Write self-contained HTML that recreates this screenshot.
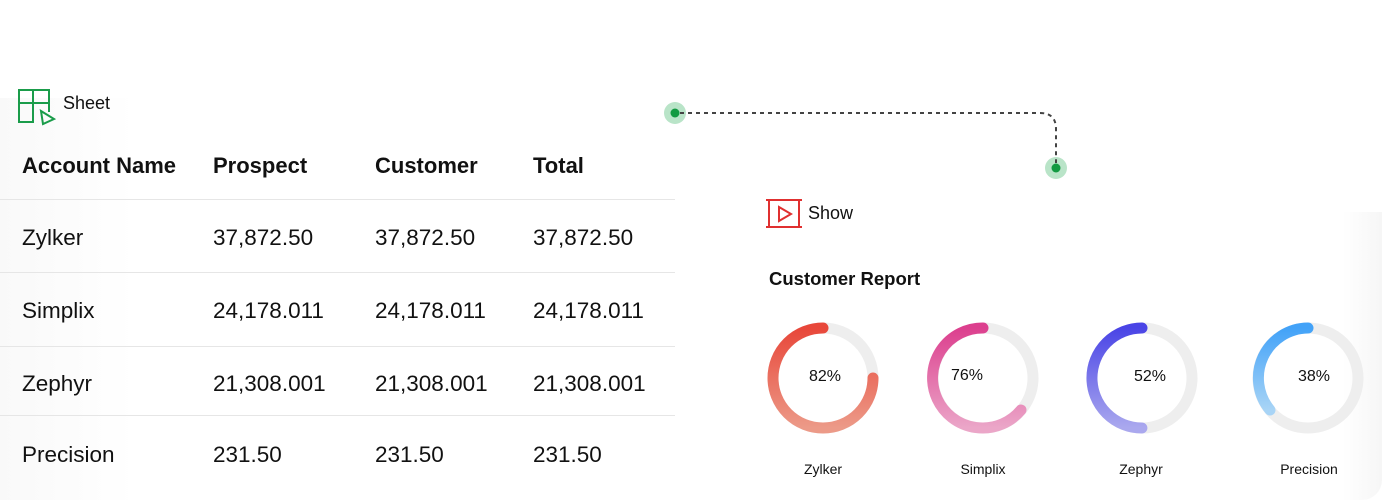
<!DOCTYPE html>
<html><head><style>
body{margin:0;width:1382px;height:500px;background:#fff;font-family:"Liberation Sans",sans-serif;position:relative;overflow:hidden;color:#111}
.a{position:absolute;white-space:nowrap}
.h{font-size:22px;font-weight:bold;top:153px}
.r{font-size:22.5px}
.line{position:absolute;left:0;width:675px;height:1px;background:#e6e6e6}
</style></head><body>
<div class="a" style="left:0;top:98px;width:675px;height:402px;background:linear-gradient(90deg,#f9f9f9,#fff 20%)"></div>
<div class="a" style="left:730px;top:212px;width:652px;height:288px;background:linear-gradient(270deg,#f6f6f6,#fff 6%);border-radius:0 0 20px 0"></div>
<svg class="a" style="left:0;top:0" width="1382" height="500">
<g stroke="#1a9c4a" stroke-width="2" fill="none"><path d="M19 112V90h30v22"/><path d="M19 103h30M33 90v32H19v-10"/><path d="M41 111l13 8-11 5z"/></g>
<g stroke="#e03030" stroke-width="2" fill="none"><path d="M766 200h36M766 227h36M769 200v27M799 200v27"/><path d="M779 207l12 7-12 7z"/></g>
<circle cx="675" cy="113" r="11" fill="#b9e4c8"/><circle cx="675" cy="113" r="4.5" fill="#129a42"/>
<circle cx="1056" cy="168" r="11" fill="#b9e4c8"/><circle cx="1056" cy="168" r="4.5" fill="#129a42"/>
<path d="M680 113H1040q16 0 16 16V163" fill="none" stroke="#444" stroke-width="2" stroke-dasharray="4 4"/>
<defs>
<linearGradient id="g1" x1="0" y1="0" x2="0" y2="1"><stop offset="0" stop-color="#e8473a"/><stop offset="1" stop-color="#ec9a88"/></linearGradient>
<linearGradient id="g2" x1="0" y1="0" x2="0" y2="1"><stop offset="0" stop-color="#dc3f8e"/><stop offset="1" stop-color="#eba6c8"/></linearGradient>
<linearGradient id="g3" x1="0" y1="0" x2="0" y2="1"><stop offset="0" stop-color="#4a44e6"/><stop offset="1" stop-color="#aaa8ee"/></linearGradient>
<linearGradient id="g4" x1="0" y1="0" x2="0" y2="1"><stop offset="0" stop-color="#42a2f8"/><stop offset="1" stop-color="#a8d4f6"/></linearGradient>
</defs>
<g fill="none" stroke="#eeeeee" stroke-width="11">
<circle cx="823" cy="378" r="50"/><circle cx="983" cy="378" r="50"/><circle cx="1142" cy="378" r="50"/><circle cx="1308" cy="378" r="50"/>
</g>
<g fill="none" stroke-width="11" stroke-linecap="round">
<path d="M823 328A50 50 0 1 0 873 378" stroke="url(#g1)"/>
<path d="M983 328A50 50 0 1 0 1021 410" stroke="url(#g2)"/>
<path d="M1142 328A50 50 0 0 0 1141.9 428" stroke="url(#g3)"/>
<path d="M1308 328A50 50 0 0 0 1270 410" stroke="url(#g4)"/>
</g>
<g font-size="16" text-anchor="middle" fill="#111">
<text x="825" y="381">82%</text><text x="967" y="380">76%</text><text x="1150" y="381">52%</text><text x="1314" y="381">38%</text>
<text x="823" y="474" font-size="14">Zylker</text><text x="983" y="474" font-size="14">Simplix</text><text x="1141" y="474" font-size="14">Zephyr</text><text x="1309" y="474" font-size="14">Precision</text>
</g>
</svg>
<div class="a" style="left:63px;top:93px;font-size:18px">Sheet</div>
<div class="a" style="left:808px;top:203px;font-size:18px">Show</div>
<div class="a" style="left:769px;top:268px;font-size:18.5px;font-weight:bold">Customer Report</div>
<div class="a h" style="left:22px">Account Name</div>
<div class="a h" style="left:213px">Prospect</div>
<div class="a h" style="left:375px">Customer</div>
<div class="a h" style="left:533px">Total</div>
<div class="line" style="top:199px"></div><div class="line" style="top:272px"></div><div class="line" style="top:346px"></div><div class="line" style="top:415px"></div>
<div class="a r" style="left:22px;top:225px">Zylker</div><div class="a r" style="left:213px;top:225px">37,872.50</div><div class="a r" style="left:375px;top:225px">37,872.50</div><div class="a r" style="left:533px;top:225px">37,872.50</div>
<div class="a r" style="left:22px;top:298px">Simplix</div><div class="a r" style="left:213px;top:298px">24,178.011</div><div class="a r" style="left:375px;top:298px">24,178.011</div><div class="a r" style="left:533px;top:298px">24,178.011</div>
<div class="a r" style="left:22px;top:371px">Zephyr</div><div class="a r" style="left:213px;top:371px">21,308.001</div><div class="a r" style="left:375px;top:371px">21,308.001</div><div class="a r" style="left:533px;top:371px">21,308.001</div>
<div class="a r" style="left:22px;top:442px">Precision</div><div class="a r" style="left:213px;top:442px">231.50</div><div class="a r" style="left:375px;top:442px">231.50</div><div class="a r" style="left:533px;top:442px">231.50</div>
</body></html>
